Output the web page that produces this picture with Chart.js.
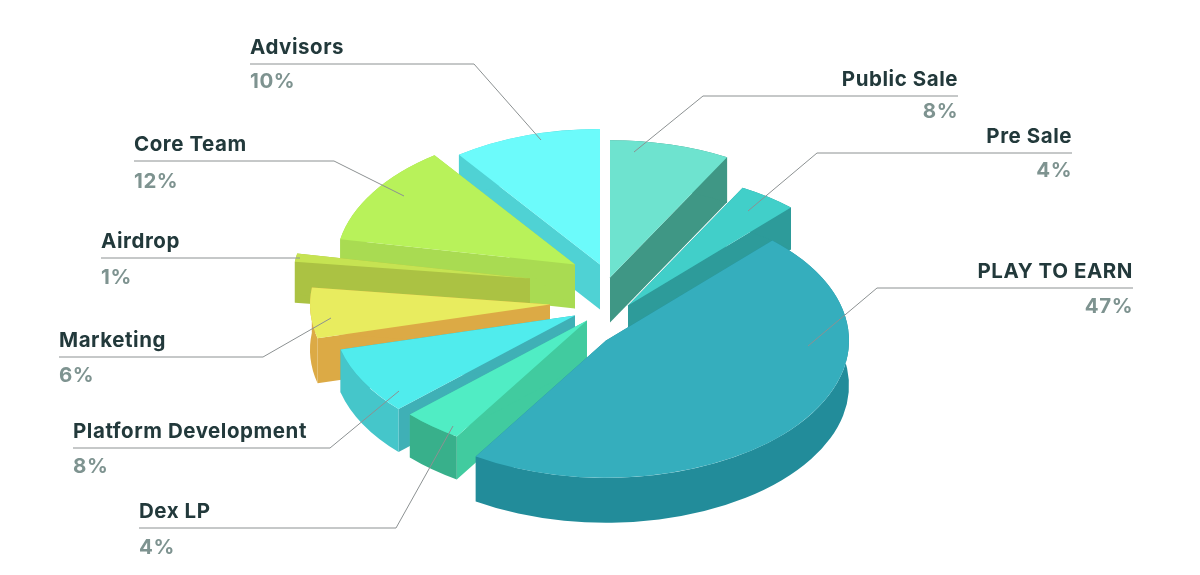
<!DOCTYPE html>
<html>
<head>
<meta charset="utf-8">
<style>
  html, body { margin: 0; padding: 0; background: #fff; }
  #wrap { width: 1200px; height: 575px; }
</style>
<script src="https://cdn.jsdelivr.net/npm/chart.js@4"></script>
</head>
<body>
<div id="wrap"><canvas id="pie"></canvas></div>
<script>
// data, clockwise from the top
var categories = ['Public Sale', 'Pre Sale', 'PLAY TO EARN', 'Dex LP', 'Platform Development', 'Marketing', 'Airdrop', 'Core Team', 'Advisors'];
var shares = [8, 4, 47, 4, 8, 6, 1, 12, 10];

// colours per slice
var topColors = ['#6ee3cf', '#41cfc9', '#35aebd', '#50edc4', '#50eced', '#e8ec5f', '#c6e352', '#b8f25a', '#6cfbfb'];
var wallColors = ['#3f9785', '#2d9b9a', '#228c9a', '#41cb9f', '#3fb0b6', '#dcaa45', '#abc243', '#a9db52', '#4fd2d4'];
var rimColors = ['#3f9785', '#2d9b9a', '#228c9a', '#38b08b', '#45c6ca', '#dcaa45', '#abc243', '#a9db52', '#4fd2d4'];

// how each slice is pulled out of the pie, px from the chart centre
var shiftX = [10, 28, 6, -13, -25, -50, -70, -25, 0];
var shiftY = [-10, 18, 53, 33, 28, 17, -9, -23, -23];
var radii = [243, 238, 243, 243, 242, 240, 237, 239, 240];
var depths = [45, 42, 45, 43, 43, 45, 41, 44, 45];
var paintOrder = [8, 0, 7, 1, 6, 5, 4, 3, 2];
var squash = 0.565;
var baseRadius = 245;

// label layout, same order as categories: text anchor, rule and leader end
var labelX = [958, 1072, 1133, 139, 73, 59, 101, 134, 250];
var labelAlign = ['right', 'right', 'right', 'left', 'left', 'left', 'left', 'left', 'left'];
var ruleY = [96, 153, 288, 528, 448, 357, 258, 161, 64];
var ruleEndX = [703, 817, 877, 396, 330, 263, 300, 334, 474];
var leaderX = [634, 748, 808, 453, 399, 331, 300, 404, 541];
var leaderY = [152, 211, 346, 426, 391, 318, 258, 196, 140];
var percentDrop = [22, 24, 25, 26, 25, 25, 26, 27, 24];

function placeSlice(ctx, arc, i) {
    var s = radii[i] / baseRadius;
    ctx.translate(arc.x + shiftX[i], arc.y + shiftY[i]);
    ctx.scale(s, squash * s);
    ctx.translate(-arc.x, -arc.y);
}

// side faces: the two cut edges and the outer rim, taken from the arc's own angles
function drawWalls(ctx, arc, i) {
    var drop = depths[i] / (squash * radii[i] / baseRadius);
    var r = arc.outerRadius;
    ctx.save();
    placeSlice(ctx, arc, i);
    ctx.fillStyle = wallColors[i];
    [arc.startAngle, arc.endAngle].forEach(function (a) {
        var ex = arc.x + Math.cos(a) * r;
        var ey = arc.y + Math.sin(a) * r;
        ctx.beginPath();
        ctx.moveTo(arc.x, arc.y);
        ctx.lineTo(ex, ey);
        ctx.lineTo(ex, ey + drop);
        ctx.lineTo(arc.x, arc.y + drop);
        ctx.closePath();
        ctx.fill();
    });
    ctx.beginPath();
    ctx.arc(arc.x, arc.y, r, arc.startAngle, arc.endAngle);
    ctx.arc(arc.x, arc.y + drop, r, arc.endAngle, arc.startAngle, true);
    ctx.closePath();
    ctx.fillStyle = rimColors[i];
    ctx.fill();
    ctx.restore();
}

var extrude = {
    id: 'extrude',
    beforeDatasetsDraw: function (chart) {
        var ctx = chart.ctx;
        var arcs = chart.getDatasetMeta(0).data;
        paintOrder.forEach(function (i) {
            drawWalls(ctx, arcs[i], i);
            ctx.save();
            placeSlice(ctx, arcs[i], i);
            arcs[i].draw(ctx);
            ctx.restore();
        });
        return false;
    }
};

var callouts = {
    id: 'callouts',
    afterDraw: function (chart) {
        var ctx = chart.ctx;
        ctx.save();
        categories.forEach(function (name, i) {
            ctx.beginPath();
            ctx.moveTo(labelX[i], ruleY[i]);
            ctx.lineTo(ruleEndX[i], ruleY[i]);
            ctx.lineTo(leaderX[i], leaderY[i]);
            ctx.strokeStyle = '#8c9192';
            ctx.lineWidth = 1;
            ctx.stroke();

            ctx.textAlign = labelAlign[i];
            ctx.textBaseline = 'alphabetic';
            ctx.font = '700 20.5px Inter';
            ctx.letterSpacing = '0.55px';
            ctx.fillStyle = '#22393b';
            ctx.fillText(name, labelX[i], ruleY[i] - 10);
            ctx.fillStyle = '#7e9390';
            ctx.fillText(shares[i] + '%', labelX[i], ruleY[i] + percentDrop[i]);
        });
        ctx.restore();
    }
};

Chart.register(extrude, callouts);

new Chart(document.getElementById('pie'), {
    type: 'pie',
    data: {
        labels: categories,
        datasets: [{
            data: shares,
            backgroundColor: topColors,
            borderWidth: 0,
            radius: baseRadius
        }]
    },
    options: {
        responsive: true,
        maintainAspectRatio: false,
        animation: false,
        layout: { padding: 0 },
        plugins: {
            legend: { display: false },
            tooltip: { enabled: false }
        }
    }
});
</script>
</body>
</html>
